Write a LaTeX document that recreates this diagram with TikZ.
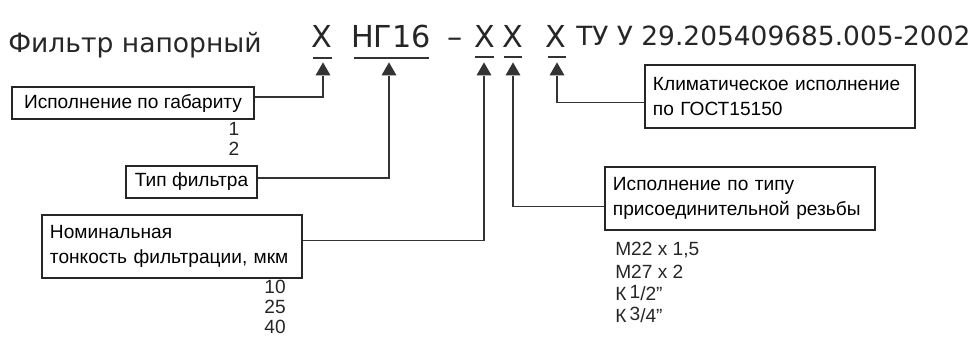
\documentclass[tikz,border=0pt]{standalone}
\usepackage{fontspec}
\setmainfont{Liberation Sans}
\newfontfamily\dejavu{DejaVu Sans}
\usetikzlibrary{shapes.geometric}
\begin{document}
\begin{tikzpicture}[x=0.025cm,y=-0.025cm,
  conn/.style={draw=black!80, line width=0.8pt},
  marker/.style={regular polygon, regular polygon sides=3, fill=black!80, draw=none, minimum size=0.43cm, inner sep=0},
  ulin/.style={draw=black!80, line width=1.6pt},
  lbox/.style={draw=black!85, line width=1.1pt, inner xsep=0.2cm, inner ysep=0, font=\fontsize{13.6}{17.5}\selectfont, fill=white},
  codet/.style={font=\dejavu\fontsize{21.5}{24}\selectfont, inner sep=0, anchor=base, text=black!85},
  num/.style={font=\fontsize{13.6}{16}\selectfont, inner sep=0, text=black!85}
]
\useasboundingbox (0,0) rectangle (977,337);

\node[anchor=base west, inner sep=0, text=black!85, font=\dejavu\fontsize{18.9}{22}\selectfont] (title) at (8,52) {Фильтр напорный};

\node[codet] (c1) at (322,47) {Х};
\node[codet] (c2) at (391,47) {НГ16};
\node[codet] (dash) at (455,47) {–};
\node[codet] (c3) at (485,47) {Х};
\node[codet] (c4) at (513,47) {Х};
\node[codet] (c5) at (556,47) {Х};
\node[anchor=base west, inner sep=0, text=black!85, font=\dejavu\fontsize{18.8}{22}\selectfont] (tu) at (576,45) {ТУ У 29.205409685.005-2002};

\draw[ulin] (313,58) -- (332,58);
\draw[ulin] (354,58) -- (429,58);
\draw[ulin] (475,57) -- (494,57);
\draw[ulin] (504,57) -- (522,57);
\draw[ulin] (548,57) -- (566,57);

\node[marker] (t1) at (323,71) {};
\node[marker] (t2) at (389,71) {};
\node[marker] (t3) at (484,71) {};
\node[marker] (t4) at (513,71) {};
\node[marker] (t5) at (557,71) {};

\node[lbox, minimum width=6.05cm, minimum height=0.8cm] (b1) at (133,103) {Исполнение по габариту};
\node[lbox, minimum width=3.275cm, minimum height=0.8cm] (b2) at (191.5,182) {Тип фильтра};
\node[lbox, text width=6.1cm, minimum height=1.575cm, align=left] (b3) at (172,246.5) {Номинальная\\тонкость фильтрации, мкм};
\node[lbox, text width=6.35cm, minimum height=1.575cm, align=left] (b4) at (740,198.5) {Исполнение по типу\\присоединительной резьбы};
\node[lbox, text width=6.35cm, minimum height=1.575cm, align=left] (b5) at (780,96.5) {Климатическое исполнение\\по ГОСТ15150};

\draw[conn] (t1.south) |- ([yshift=0.15cm]b1.east);
\draw[conn] (t2.south) |- ([yshift=0.1cm]b2.east);
\draw[conn] (t3.south) |- ([yshift=0.16cm]b3.east);
\draw[conn] (t4.south) |- ([yshift=-0.21cm]b4.west);
\draw[conn] (t5.south) |- ([yshift=-0.14cm]b5.west);

\node[num] (n1) at (234,129) {1};
\node[num] (n2) at (234,149) {2};
\node[num] (n10) at (275,287) {10};
\node[num] (n25) at (275,307) {25};
\node[num] (n40) at (275,327) {40};

\node[num, anchor=west] (m1) at (615,250) {М22 х 1,5};
\node[num, anchor=west] (m2) at (615,272) {М27 х 2};
\node[num, anchor=west] (k1) at (615,293) {К\,\raisebox{0.07cm}{1}/2\symbol{34}};
\node[num, anchor=west] (k2) at (615,315) {К\,\raisebox{0.07cm}{3}/4\symbol{34}};
\end{tikzpicture}
\end{document}
